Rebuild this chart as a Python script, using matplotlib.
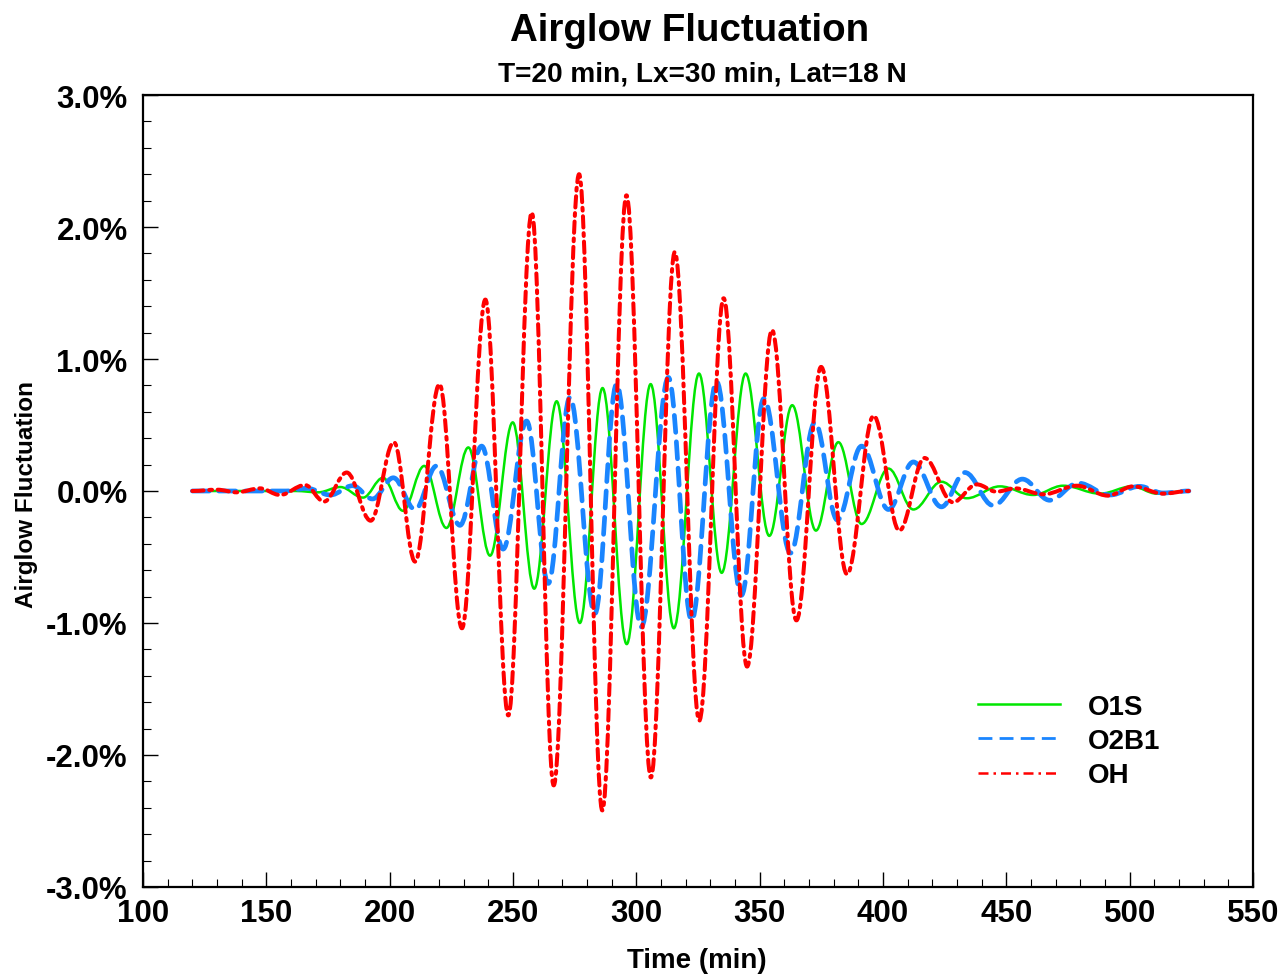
import matplotlib
matplotlib.use("Agg")
import matplotlib.pyplot as plt
from matplotlib.path import Path
from matplotlib.patches import PathPatch
from matplotlib.lines import Line2D
from matplotlib.ticker import MultipleLocator, FuncFormatter

# ---- data: alternating extrema (time in min, fluctuation in %) ----
o1s_t = [120, 162, 171, 180, 189.2, 197.3, 205.4, 214.0, 223.0, 231.9, 240.7, 249.9, 258.6,
         267.7, 277.1, 286.3, 296.1, 305.8, 315.2, 325.4, 334.6, 344.3, 353.9, 363.2, 372.8,
         381.9, 391.3, 402.2, 412.3, 423.7, 433.9, 447.4, 460.9, 473.0, 488.0, 501.0, 511.0, 524]
o1s_v = [0.0, 0.0, -0.01, 0.03, -0.05, 0.10, -0.15, 0.19, -0.28, 0.33, -0.49, 0.52, -0.74,
         0.68, -1.00, 0.78, -1.16, 0.81, -1.04, 0.89, -0.62, 0.89, -0.34, 0.65, -0.30,
         0.37, -0.25, 0.17, -0.14, 0.07, -0.055, 0.035, -0.03, 0.04, -0.02, 0.035, -0.02, 0.0]

o2b1_t = [120, 158, 166.4, 176.0, 185.0, 193.0, 201.5, 210.3, 219.0, 228.5, 237.3, 246.0, 255.5,
          264.3, 273.1, 283.2, 292.0, 302.0, 313.0, 322.4, 332.5, 342.6, 351.7, 362.5, 372.4,
          381.5, 391.3, 402.2, 412.3, 423.7, 433.2, 444.7, 456.5, 467.6, 479.1, 492.0, 504.0, 513.5, 524]
o2b1_v = [0.0, 0.0, 0.02, -0.03, 0.04, -0.06, 0.10, -0.14, 0.19, -0.26, 0.34, -0.44, 0.53,
          -0.70, 0.71, -0.93, 0.81, -1.03, 0.86, -0.98, 0.83, -0.79, 0.70, -0.47, 0.52,
          -0.22, 0.34, -0.14, 0.22, -0.12, 0.14, -0.11, 0.09, -0.07, 0.06, -0.03, 0.035, -0.015, 0.0]

oh_t = [120, 130, 138, 147.4, 155.5, 165.7, 173.4, 182.6, 192.3, 201.7, 210.3, 220.2, 229.3,
        238.8, 248.1, 257.6, 266.5, 276.8, 286.2, 296.0, 305.9, 315.6, 325.5, 335.4, 344.9,
        355.0, 364.9, 374.9, 385.4, 396.2, 406.6, 416.8, 428.3, 438.0, 446.0, 453.5, 465.0,
        478.6, 491.2, 501.4, 513.5, 524]
oh_v = [0.0, 0.01, -0.01, 0.02, -0.03, 0.045, -0.08, 0.14, -0.225, 0.37, -0.535, 0.81, -1.04,
        1.45, -1.70, 2.11, -2.23, 2.40, -2.42, 2.24, -2.17, 1.81, -1.74, 1.46, -1.33,
        1.22, -0.98, 0.94, -0.63, 0.57, -0.30, 0.25, -0.085, 0.05, -0.005, 0.02, -0.025,
        0.04, -0.035, 0.035, -0.02, 0.0]

series_names = ["O1S", "O2B1", "OH"]
title = "Airglow Fluctuation"
subtitle = "T=20 min, Lx=30 min, Lat=18 N"
x_label = "Time (min)"
y_label = "Airglow Fluctuation"

FONT = "Liberation Sans"
plt.rcParams["font.family"] = [FONT, "DejaVu Sans"]
plt.rcParams["font.weight"] = "bold"

W, H = 1282, 978
fig = plt.figure(figsize=(W / 100, H / 100), dpi=100)
L, R, T, B = 143, 1253, 96, 888
ax = fig.add_axes([L / W, 1 - B / H, (R - L) / W, (B - T) / H])


def extrema_path(ts, vs):
    """Smooth curve through consecutive extrema (horizontal tangents) as Bezier segments."""
    k = 0.3634
    verts = [(ts[0], vs[0])]
    codes = [Path.MOVETO]
    for i in range(1, len(ts)):
        t0, v0, t1, v1 = ts[i - 1], vs[i - 1], ts[i], vs[i]
        d = t1 - t0
        verts += [(t0 + k * d, v0), (t1 - k * d, v1), (t1, v1)]
        codes += [Path.CURVE4] * 3
    return Path(verts, codes)


green = "#00e600"
blue = "#1a85ff"
red = "#ff0000"

styles = [
    dict(color=green, lw=1.8, ls="-"),
    dict(color=blue, lw=3.4, ls=(0, (3.6, 2.0))),
    dict(color=red, lw=2.9, ls=(0, (2.8, 1.4, 0.7, 1.4))),
]
data = [(o1s_t, o1s_v), (o2b1_t, o2b1_v), (oh_t, oh_v)]

for z, ((ts, vs), st) in enumerate(zip(data, styles)):
    p = PathPatch(extrema_path(ts, vs), facecolor="none", edgecolor=st["color"],
                  lw=st["lw"], ls=st["ls"], transform=ax.transData, zorder=2 + z,
                  capstyle="round", joinstyle="round")
    ax.add_patch(p)

ax.set_xlim(100, 550)
ax.set_ylim(-3.0, 3.0)
ax.xaxis.set_major_locator(MultipleLocator(50))
ax.xaxis.set_minor_locator(MultipleLocator(10))
ax.yaxis.set_major_locator(MultipleLocator(1.0))
ax.yaxis.set_minor_locator(MultipleLocator(0.2))
ax.yaxis.set_major_formatter(FuncFormatter(lambda v, p: f"{v:.1f}%".replace("-0.0%", "0.0%")))
ax.xaxis.set_major_formatter(FuncFormatter(lambda v, p: f"{v:.0f}"))

ax.tick_params(axis="both", which="both", direction="in", top=False, right=False, color="black")
ax.tick_params(axis="both", which="major", length=11, width=1.0, labelsize=22.5, pad=8)
ax.tick_params(axis="both", which="minor", length=5.5, width=0.8)
ax.tick_params(axis="y", which="major", pad=11)
for lab in ax.get_xticklabels() + ax.get_yticklabels():
    lab.set_fontweight("bold")
for s in ax.spines.values():
    s.set_linewidth(1.6)

fig.text(690 / W, 1 - 41 / H, title, ha="center", va="baseline", fontsize=27.7, fontweight="bold")
fig.text(702 / W, 1 - 82 / H, subtitle, ha="center", va="baseline", fontsize=20.2, fontweight="bold")
fig.text(697 / W, 1 - 968 / H, x_label, ha="center", va="baseline", fontsize=20, fontweight="bold")
fig.text(27 / W, 1 - 495 / H, y_label, ha="center", va="center", rotation=90,
         fontsize=17.5, fontweight="bold")

handles = [
    Line2D([], [], color=green, lw=1.8, ls="-"),
    Line2D([], [], color=blue, lw=2.0, ls=(0, (5.0, 2.6))),
    Line2D([], [], color=red, lw=1.8, ls=(0, (4.0, 2.0, 1.0, 2.0))),
]
leg = ax.legend(handles, series_names, loc="center left",
                bbox_to_anchor=((978 - L) / (R - L), (B - 742) / (B - T)),
                frameon=False, fontsize=20, handlelength=2.95, handletextpad=1.0,
                labelspacing=0.3, borderpad=0, borderaxespad=0)
for t in leg.get_texts():
    t.set_fontweight("bold")

fig.savefig("out.png", dpi=100)
